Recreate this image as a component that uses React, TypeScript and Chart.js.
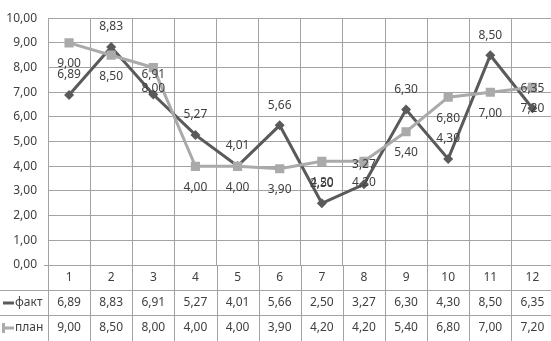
import React, { useEffect, useRef } from "react";
import { Chart, registerables } from "chart.js";

Chart.register(...registerables);

const categories = ["1", "2", "3", "4", "5", "6", "7", "8", "9", "10", "11", "12"];
const factValues = [6.89, 8.83, 6.91, 5.27, 4.01, 5.66, 2.5, 3.27, 6.3, 4.3, 8.5, 6.35];
const planValues = [9.0, 8.5, 8.0, 4.0, 4.0, 3.9, 4.2, 4.2, 5.4, 6.8, 7.0, 7.2];
const seriesNames = ["факт", "план"];
const yMin = 0;
const yMax = 10;
const yStep = 1;

const FONT = "'Noto Sans', 'DejaVu Sans', sans-serif";
const TEXT = "#404040";
const GRID = "#a3a3a3";
const FACT_COLOR = "#5a5a5a";
const PLAN_COLOR = "#aaaaaa";

const CANVAS_W = 560;
const CANVAS_H = 341;
const PLOT_TOP = 14;
const PLOT_BOTTOM = 265;
const AXIS_W = 48;
const ROW1 = 290.5;
const ROW2 = 315.5;

const fmt = (v: number) => v.toFixed(2).replace(".", ",");

const labelsPlugin = {
  id: "pointLabels",
  afterDatasetsDraw(chart: any) {
    const ctx = chart.ctx;
    ctx.save();
    ctx.font = `12px ${FONT}`;
    ctx.fillStyle = TEXT;
    ctx.textAlign = "center";
    ctx.textBaseline = "middle";
    chart.data.datasets.forEach((ds: any, di: number) => {
      const meta = chart.getDatasetMeta(di);
      const above = ds.label === seriesNames[0];
      meta.data.forEach((pt: any, i: number) => {
        const v = ds.data[i];
        ctx.fillText(fmt(v), pt.x, above ? pt.y - 20 : pt.y + 21);
      });
    });
    ctx.restore();
  },
};

const tablePlugin = {
  id: "dataTable",
  afterDraw(chart: any) {
    const ctx = chart.ctx;
    const xs = chart.scales.x;
    const area = chart.chartArea;
    const n = categories.length;
    const step = (area.right - area.left) / n;
    ctx.save();
    ctx.strokeStyle = GRID;
    ctx.lineWidth = 1;
    ctx.beginPath();
    // horizontal row lines
    ctx.moveTo(0, ROW1);
    ctx.lineTo(CANVAS_W, ROW1);
    ctx.moveTo(0, ROW2);
    ctx.lineTo(CANVAS_W, ROW2);
    ctx.moveTo(44, Math.round(PLOT_BOTTOM) + 0.5);
    ctx.lineTo(area.left, Math.round(PLOT_BOTTOM) + 0.5);
    // vertical lines through table
    for (let i = 0; i <= n; i++) {
      const x = Math.round(area.left + i * step) + 0.5;
      ctx.moveTo(x, area.bottom);
      ctx.lineTo(x, CANVAS_H);
    }
    ctx.stroke();

    ctx.font = `12px ${FONT}`;
    ctx.fillStyle = TEXT;
    ctx.textBaseline = "middle";
    ctx.textAlign = "center";
    const rowY = [278, 303, 328];
    categories.forEach((c, i) => {
      const x = xs.getPixelForValue(i);
      ctx.fillText(c, x, rowY[0]);
      ctx.fillText(fmt(factValues[i]), x, rowY[1]);
      ctx.fillText(fmt(planValues[i]), x, rowY[2]);
    });

    // legend keys
    ctx.textAlign = "left";
    ctx.fillText(seriesNames[0], 15, rowY[1]);
    ctx.fillText(seriesNames[1], 15, rowY[2]);
    ctx.fillStyle = FACT_COLOR;
    ctx.fillRect(3, rowY[1] - 1.5, 11, 3);
    ctx.fillStyle = PLAN_COLOR;
    ctx.fillRect(3, rowY[2] - 1.5, 11, 3);
    ctx.fillRect(2, rowY[2] - 5, 3, 10);
    ctx.restore();
  },
};

export default function App() {
  const ref = useRef<HTMLCanvasElement | null>(null);

  useEffect(() => {
    if (!ref.current) return;
    const chart = new Chart(ref.current, {
      type: "line",
      data: {
        labels: categories,
        datasets: [
          {
            label: seriesNames[0],
            data: factValues,
            borderColor: FACT_COLOR,
            backgroundColor: FACT_COLOR,
            borderWidth: 3,
            pointStyle: "rectRot",
            pointRadius: 5,
            pointBorderWidth: 0,
            tension: 0,
            order: 2,
          },
          {
            label: seriesNames[1],
            data: planValues,
            borderColor: PLAN_COLOR,
            backgroundColor: PLAN_COLOR,
            borderWidth: 3,
            pointStyle: "rect",
            pointRadius: 6.5,
            pointBorderWidth: 0,
            tension: 0,
            order: 1,
          },
        ],
      },
      options: {
        responsive: false,
        animation: false,
        devicePixelRatio: 1,
        layout: { padding: { top: PLOT_TOP, left: 0, right: 0, bottom: 0 } },
        plugins: {
          legend: { display: false },
          tooltip: { enabled: false },
        },
        scales: {
          x: {
            type: "category",
            offset: true,
            grid: { color: GRID, offset: true, drawTicks: false },
            border: { display: false },
            ticks: { display: false },
            afterFit: (s: any) => {
              s.height = CANVAS_H - PLOT_BOTTOM;
            },
          },
          y: {
            min: yMin,
            max: yMax,
            grid: { color: GRID, drawTicks: false },
            border: { display: false },
            ticks: {
              stepSize: yStep,
              padding: 11,
              color: TEXT,
              font: { family: FONT, size: 12 },
              callback: (v: any) => fmt(Number(v)),
            },
            afterFit: (s: any) => {
              s.width = AXIS_W;
            },
          },
        },
      },
      plugins: [labelsPlugin, tablePlugin],
    } as any);
    return () => chart.destroy();
  }, []);

  return (
    <div
      style={{
        position: "absolute",
        left: 0,
        top: 0,
        width: 551,
        height: 341,
        overflow: "hidden",
        background: "#ffffff",
      }}
    >
      <canvas ref={ref} width={CANVAS_W} height={CANVAS_H} style={{ width: CANVAS_W, height: CANVAS_H, display: "block" }} />
    </div>
  );
}
